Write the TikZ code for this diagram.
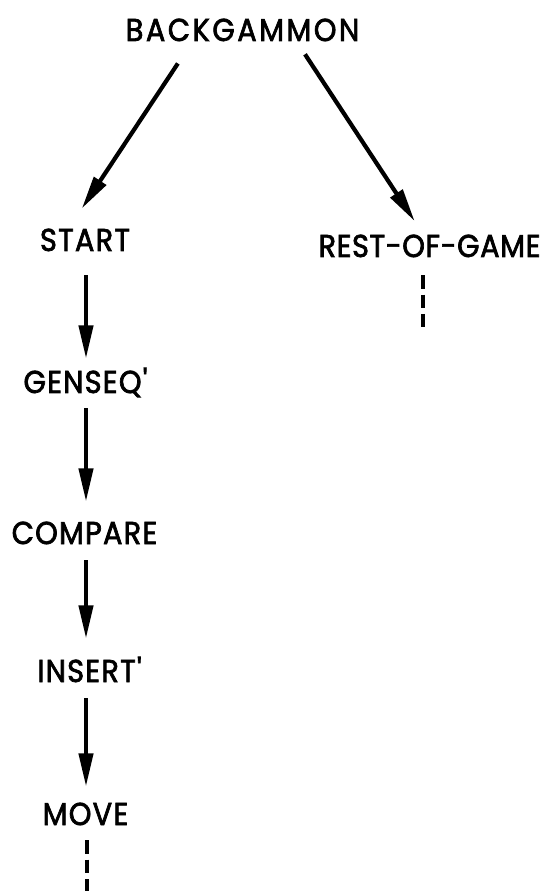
\documentclass[tikz,border=0pt]{standalone}
\usepackage{fontspec}
\setsansfont{Poppins}[Ligatures=TeXOff, LetterSpace=4, FakeStretch=0.91, FakeBold=2.2]
\usetikzlibrary{arrows.meta}
\tikzset{
    call/.style={font=\sffamily\fontsize{18}{20}\selectfont, inner sep=0pt, text height=0.44cm, text depth=0pt},
    link/.style={line width=2.4pt, -{Triangle[length=19pt,width=8pt]}},
    more/.style={line width=2.4pt, dash pattern=on 7.5pt off 3.5pt}
}
\begin{document}
\begin{tikzpicture}[x=0.02cm, y=-0.02cm]
    \useasboundingbox (0,0) rectangle (550,891);
    \node[call] (bg) at (242.5,30) {\addfontfeature{LetterSpace=8}BACKGAMMON};
    \node[call] (start) at (85,240) {START};
    \node[call] (rest) at (429.5,246) {\addfontfeature{LetterSpace=2}REST-OF-GAME};
    \node[call] (genseq) at (85.5,382) {GENSEQ'};
    \node[call] (compare) at (84.5,533) {COMPARE};
    \node[call] (insert) at (89.5,671) {INSERT'};
    \node[call] (move) at (85.5,814) {MOVE};
    \coordinate (col) at (86,0);
    \coordinate (restend) at (423,330);
    \coordinate (moveend) at (87,891);
    % the two halves of the game
    \draw[link, shorten <=0.53cm, shorten >=0.48cm] ([xshift=-1cm]bg.south) -- ([xshift=-0.33cm]start.north);
    \draw[link, shorten <=0.31cm, shorten >=0.32cm] ([xshift=1.08cm]bg.south) -- ([xshift=-0.12cm]rest.north);
    % the opening moves
    \draw[link, shorten <=0.48cm, shorten >=0.24cm] (start.south -| col) -- (genseq.north -| col);
    \draw[link, shorten <=0.3cm, shorten >=0.4cm] (genseq.south -| col) -- (compare.north -| col);
    \draw[link, shorten <=0.32cm, shorten >=0.42cm] (compare.south -| col) -- (insert.north -| col);
    \draw[link, shorten <=0.32cm, shorten >=0.32cm] (insert.south -| col) -- (move.north -| col);
    \draw[more, shorten <=0.36cm] (rest.south -| restend) -- (restend);
    \draw[more, shorten <=0.3cm] (move.south -| moveend) -- (moveend);
\end{tikzpicture}
\end{document}
